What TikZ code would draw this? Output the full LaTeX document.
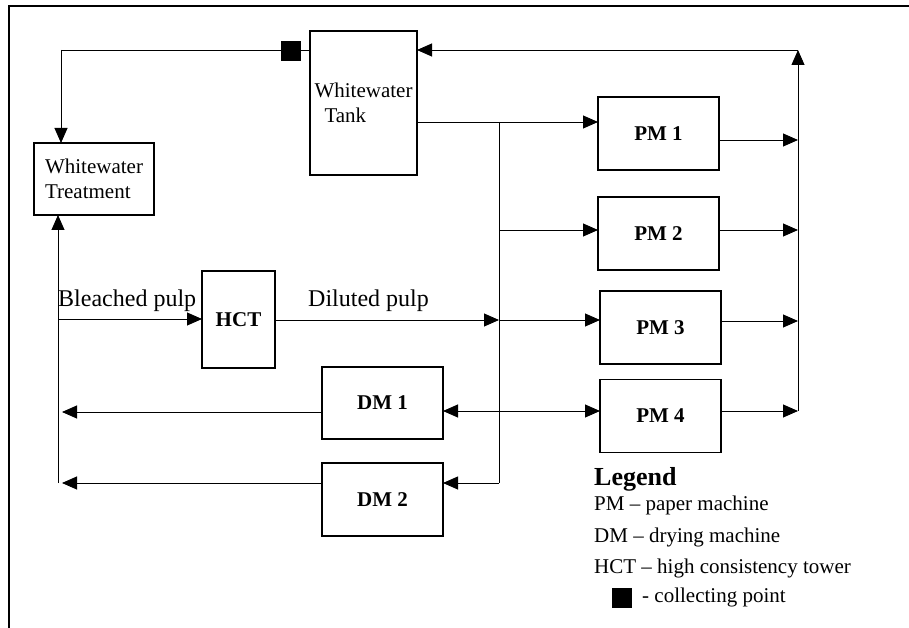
\documentclass[tikz,border=0pt]{standalone}
\usepackage{fontspec}
\setmainfont{Liberation Serif}
\usetikzlibrary{arrows.meta}
\begin{document}
\begin{tikzpicture}[x=1pt,y=-1pt,
  box/.style={draw, line width=1.3pt, inner sep=0pt, outer sep=0pt},
  bbox/.style={box, minimum width=121pt, minimum height=73pt, font=\fontsize{21}{24}\selectfont\bfseries},
  ttext/.style={font=\fontsize{21}{25}\selectfont, align=left},
  ln/.style={line width=0.9pt},
  arr/.style={ln, -{Triangle[length=15pt,width=13pt]}},
  darr/.style={ln, {Triangle[length=15pt,width=13pt]}-{Triangle[length=15pt,width=13pt]}},
  lbl/.style={inner sep=0pt, anchor=base west, font=\fontsize{24}{28}\selectfont},
  leg/.style={inner sep=0pt, anchor=base west, font=\fontsize{21}{24}\selectfont},
  cpt/.style={fill=black, draw=none, minimum size=20pt, inner sep=0pt, outer sep=0pt}
]
\useasboundingbox (0,0) rectangle (909,628);
% frame
\draw[line width=2pt] (8.5,628) -- (8.5,6.5) -- (909,6.5);

% boxes
\node[box, ttext, minimum width=107pt, minimum height=144pt] (tank) at (363.5,103) {Whitewater\\\hspace{10pt}Tank};
\node[box, ttext, minimum width=120pt, minimum height=72pt] (wt) at (94,179) {Whitewater\\Treatment};
\node[bbox] (pm1) at (658.5,133.5) {PM 1};
\node[bbox] (pm2) at (658.5,233.5) {PM 2};
\node[bbox] (pm3) at (660.5,327.5) {PM 3};
\node[bbox] (pm4) at (660.5,416) {PM 4};
\node[bbox, minimum width=73pt, minimum height=97pt] (hct) at (238.5,319.5) {HCT};
\node[bbox, minimum height=72pt] (dm1) at (382.5,403) {DM 1};
\node[bbox] (dm2) at (382.5,499.5) {DM 2};

% coordinates
\coordinate (tl) at (61,50);
\coordinate (top) at (798,50);
\coordinate (j1) at (499,122);
\coordinate (j2) at (499,230);
\coordinate (j3) at (499,320);
\coordinate (j5) at (499,483);
\coordinate (c1) at (798,140);
\coordinate (c2) at (798,230);
\coordinate (c3) at (798,321);
\coordinate (c4) at (798,411);
\coordinate (r4) at (0,411);
\coordinate (a1) at (62,412);
\coordinate (a2) at (62,483);
\coordinate (l5) at (58,483);
\coordinate (bp) at (58,319);

% collecting line to treatment
\draw[ln] (tank.west |- tl) -- (tl);
\draw[arr] (tl) -- (tl |- wt.north);
\node[cpt] (cp) at (291,51) {};

% return line to tank
\draw[arr] (c4) -- (top);
\draw[arr] (top) -- (tank.east |- top);

% tank outputs
\draw[arr] (tank.east |- j1) -- (pm1.west |- j1);
\draw[ln] (j1) -- (j5);
\draw[arr] (j2) -- (pm2.west |- j2);
\draw[arr] (hct.east |- j3) -- (j3);
\draw[arr] (j3) -- (pm3.west |- j3);
\draw[arr] (j5) -- (dm2.east |- j5);
\draw[darr] (dm1.east |- r4) -- (pm4.west |- r4);

% PM outputs
\draw[arr] (pm1.east |- c1) -- (c1);
\draw[arr] (pm2.east |- c2) -- (c2);
\draw[arr] (pm3.east |- c3) -- (c3);
\draw[arr] (pm4.east |- c4) -- (c4);

% left side
\draw[arr] (l5) -- (l5 |- wt.south);
\draw[arr] (bp) -- (hct.west |- bp);
\draw[arr] (dm1.west |- a1) -- (a1);
\draw[arr] (dm2.west |- a2) -- (a2);

% labels
\node[lbl] (lbp) at (58,306) {Bleached pulp};
\node[lbl] (ldp) at (308,306) {Diluted pulp};

% legend
\node[inner sep=0pt, anchor=base west, font=\fontsize{26}{30}\selectfont\bfseries] (legt) at (594,485) {Legend};
\node[leg] (leg1) at (594,510) {PM -- paper machine};
\node[leg] (leg2) at (594,542) {DM -- drying machine};
\node[leg] (leg3) at (594,573) {HCT -- high consistency tower};
\node[cpt] (legsq) at (622,598) {};
\node[leg] (leg4) at (642,602) {- collecting point};
\end{tikzpicture}
\end{document}
